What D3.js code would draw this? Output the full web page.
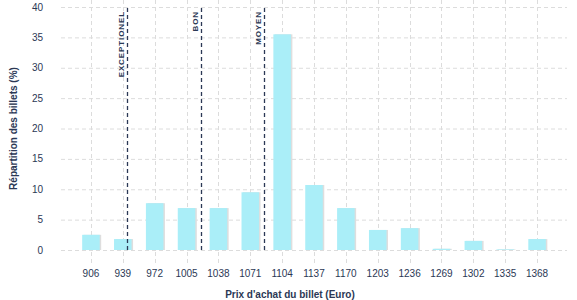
<!DOCTYPE html>
<html>
<head>
<meta charset="utf-8">
<script src="https://cdn.jsdelivr.net/npm/d3@7"></script>
<style>
  body { margin: 0; background: #fff; }
  text { font-family: "Liberation Sans", Arial, sans-serif; fill: #2b3855; }
</style>
</head>
<body>
<svg id="chart" width="577" height="300"></svg>
<script>
// categories and values
const prices = [906, 939, 972, 1005, 1038, 1071, 1104, 1137, 1170, 1203, 1236, 1269, 1302, 1335, 1368];
const shares = [2.5, 1.8, 7.7, 6.9, 6.9, 9.5, 35.5, 10.7, 6.9, 3.3, 3.6, 0.2, 1.5, 0.1, 1.8];
const yTicks = [0, 5, 10, 15, 20, 25, 30, 35, 40];
const thresholdNames = ["EXCEPTIONEL", "BON", "MOYEN"];
const thresholdPrices = [943, 1020, 1085];

const svg = d3.select("#chart");
const m = {left: 61, right: 567, top: 7, bottom: 250};

const x = d3.scaleBand().domain(prices).range([75, 553]).paddingInner(0.45).paddingOuter(0.225);
const y = d3.scaleLinear().domain([0, 40]).range([m.bottom, m.top]);
const cx = d => x(d) + x.bandwidth() / 2;
// continuous price -> pixel, through band centres
const xp = d3.scaleLinear()
    .domain([prices[0], prices[prices.length - 1]])
    .range([cx(prices[0]), cx(prices[prices.length - 1])]);

// grid
const grid = svg.append("g").attr("stroke", "#dcdcdc").attr("stroke-dasharray", "4,3").attr("stroke-width", 1);
grid.selectAll(".gy").data(yTicks).join("line")
    .attr("x1", m.left).attr("x2", m.right)
    .attr("y1", d => y(d) + 0.5).attr("y2", d => y(d) + 0.5);
grid.selectAll(".gx").data(prices).join("line")
    .attr("x1", d => Math.round(cx(d)) + 0.5)
    .attr("x2", d => Math.round(cx(d)) + 0.5)
    .attr("y1", 0).attr("y2", 264);

// bars with small shadow
const data = prices.map((p, i) => ({p, v: shares[i]}));
svg.append("g").selectAll("rect").data(data).join("rect")
    .attr("x", d => x(d.p) + 1.5).attr("y", d => y(d.v))
    .attr("width", x.bandwidth()).attr("height", d => y(0) - y(d.v))
    .attr("fill", "#dedede");
svg.append("g").selectAll("rect").data(data).join("rect")
    .attr("x", d => x(d.p)).attr("y", d => y(d.v))
    .attr("width", x.bandwidth()).attr("height", d => y(0) - y(d.v))
    .attr("fill", "#aaeef8");

// thresholds
const th = svg.append("g");
thresholdPrices.forEach((p, i) => {
    const px = Math.round(xp(p)) + 0.5;
    th.append("line").attr("x1", px).attr("x2", px).attr("y1", 8).attr("y2", 253)
        .attr("stroke", "#2b3855").attr("stroke-width", 1.3).attr("stroke-dasharray", "4,3");
    th.append("text")
        .attr("transform", `translate(${px - 4},11) rotate(-90)`)
        .attr("text-anchor", "end")
        .attr("font-size", 8).attr("font-weight", "bold").attr("letter-spacing", 0.9)
        .text(thresholdNames[i]);
});

// axes labels
svg.append("g").selectAll("text").data(yTicks).join("text")
    .attr("x", 43).attr("y", d => y(d) + 3.5)
    .attr("text-anchor", "end").attr("font-size", 10)
    .text(d => d);
svg.append("g").selectAll("text").data(prices).join("text")
    .attr("x", d => cx(d)).attr("y", 277)
    .attr("text-anchor", "middle").attr("font-size", 10)
    .text(d => d);

svg.append("text")
    .attr("transform", `translate(17,${(m.top + m.bottom) / 2}) rotate(-90)`)
    .attr("text-anchor", "middle").attr("font-size", 10).attr("font-weight", "bold")
    .text("Répartition des billets (%)");
svg.append("text")
    .attr("x", 290).attr("y", 298)
    .attr("text-anchor", "middle").attr("font-size", 10).attr("font-weight", "bold")
    .text("Prix d'achat du billet (Euro)");
</script>
</body>
</html>
